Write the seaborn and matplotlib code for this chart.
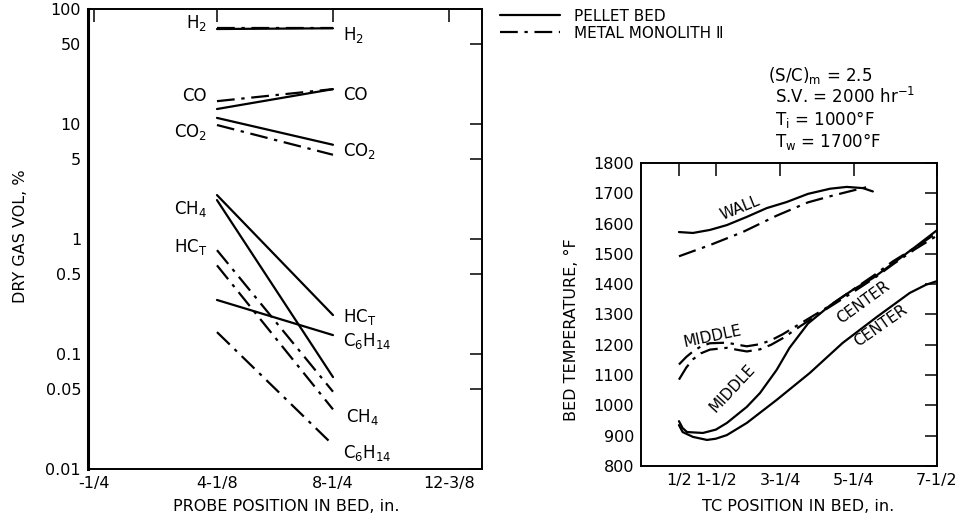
import matplotlib
matplotlib.use("Agg")
import matplotlib.pyplot as plt
import pandas as pd
import seaborn as sns

sns.set_style("white")
plt.rcParams["font.family"] = ["DejaVu Sans"]
plt.rcParams["mathtext.default"] = "regular"
plt.rcParams["text.color"] = "black"
plt.rcParams["axes.labelcolor"] = "black"

BEDS = ["PELLET BED", "METAL MONOLITH Ⅱ"]
DASHES = {"PELLET BED": "", "METAL MONOLITH Ⅱ": (8, 3, 1.5, 3)}

# ---- Dry gas composition at the two probe stations (vol %) ----
probe_pos = [4.125, 8.25]
gases = ["H2", "CO", "CO2", "CH4", "HCT", "C6H14"]
pellet_in = [67, 13.5, 11.3, 2.18, 2.41, 0.295]
pellet_out = [68, 20.1, 6.6, 0.063, 0.218, 0.146]
monolith_in = [68, 15.8, 9.8, 0.59, 0.80, 0.155]
monolith_out = [68, 20.1, 5.4, 0.033, 0.047, 0.0162]

probe_ticks = [-0.25, 4.125, 8.25, 12.375]
probe_labels = ["-1/4", "4-1/8", "8-1/4", "12-3/8"]
gas_yticks = [0.01, 0.05, 0.1, 0.5, 1, 5, 10, 50, 100]
gas_ylabels = ["0.01", "0.05", "0.1", "0.5", "1", "5", "10", "50", "100"]

# ---- Bed temperature profiles (°F) ----
wall_pellet_x = [0.5, 0.88, 1.34, 1.8, 2.34, 2.88, 3.42, 4.0, 4.6, 5.05, 5.49, 5.76]
wall_pellet_t = [1572, 1569, 1579, 1595, 1622, 1651, 1671, 1698, 1715, 1721, 1717, 1706]
wall_mono_x = [0.5, 1.34, 2.23, 3.15, 4.0, 4.6, 5.05, 5.45, 5.7]
wall_mono_t = [1492, 1529, 1572, 1626, 1670, 1690, 1704, 1716, 1723]

mid_mono_x = [0.5, 0.7, 0.88, 1.1, 1.34, 1.8, 2.1, 2.34, 2.7, 3.0, 3.32, 3.86, 4.5, 5.2, 5.8, 6.3, 6.9, 7.5]
mid_mono_t = [1135, 1160, 1178, 1195, 1205, 1207, 1200, 1195, 1202, 1215, 1235, 1275, 1322, 1380, 1430, 1475, 1520, 1570]
ctr_mono_x = [0.5, 0.7, 0.88, 1.1, 1.34, 1.8, 2.1, 2.34, 2.7, 3.0, 3.32, 3.8, 4.5, 5.2, 5.8, 6.3, 6.9, 7.5]
ctr_mono_t = [1085, 1125, 1152, 1172, 1184, 1190, 1183, 1178, 1185, 1200, 1222, 1262, 1318, 1372, 1420, 1465, 1515, 1560]

mid_pellet_x = [0.5, 0.6, 0.72, 1.15, 1.5, 1.8, 2.34, 2.7, 3.15, 3.5, 4.0, 4.6, 5.2, 5.76, 6.3, 6.9, 7.5]
mid_pellet_t = [948, 925, 912, 909, 920, 942, 995, 1041, 1117, 1190, 1270, 1330, 1380, 1420, 1468, 1522, 1578]
ctr_pellet_x = [0.5, 0.6, 0.88, 1.26, 1.5, 1.8, 2.34, 3.15, 4.05, 4.94, 5.87, 6.76, 7.2, 7.5]
ctr_pellet_t = [935, 912, 896, 886, 890, 902, 942, 1018, 1107, 1206, 1292, 1371, 1398, 1410]

tc_ticks = [0.5, 1.5, 3.25, 5.25, 7.5]
tc_labels = ["1/2", "1-1/2", "3-1/4", "5-1/4", "7-1/2"]
temp_ticks = list(range(800, 1801, 100))

# ---- long-form tables ----
gas_rows = []
for i, g in enumerate(gases):
    for bed, a, b in ((BEDS[0], pellet_in, pellet_out), (BEDS[1], monolith_in, monolith_out)):
        gas_rows.append({"gas": g, "bed": bed, "pos": probe_pos[0], "pct": a[i]})
        gas_rows.append({"gas": g, "bed": bed, "pos": probe_pos[1], "pct": b[i]})
gas_df = pd.DataFrame(gas_rows)

temp_rows = []
for name, bed, xs, ts in (
    ("wall", BEDS[0], wall_pellet_x, wall_pellet_t),
    ("wall", BEDS[1], wall_mono_x, wall_mono_t),
    ("middle", BEDS[1], mid_mono_x, mid_mono_t),
    ("center", BEDS[1], ctr_mono_x, ctr_mono_t),
    ("middle", BEDS[0], mid_pellet_x, mid_pellet_t),
    ("center", BEDS[0], ctr_pellet_x, ctr_pellet_t),
):
    for x, t in zip(xs, ts):
        temp_rows.append({"curve": name + "/" + bed, "bed": bed, "pos": x, "temp": t})
temp_df = pd.DataFrame(temp_rows)

fig = plt.figure(figsize=(9.62, 5.18), dpi=100)
ax1 = fig.add_axes([0.0915, 0.0946, 0.4096, 0.888])
ax2 = fig.add_axes([0.6663, 0.1004, 0.3077, 0.585])

# ---- left panel: gas composition ----
sns.lineplot(data=gas_df, x="pos", y="pct", units="gas", estimator=None,
             style="bed", style_order=BEDS, dashes=DASHES, color="black",
             lw=1.6, ax=ax1, legend=True)
ax1.set_yscale("log")
ax1.set_ylim(0.01, 100)
ax1.set_xlim(-0.46, 13.55)
ax1.set_xticks(probe_ticks, probe_labels)
ax1.set_yticks(gas_yticks, gas_ylabels)
ax1.minorticks_off()
ax1.set_xlabel("PROBE POSITION IN BED, in.", fontsize=11.5)
ax1.set_ylabel("DRY GAS VOL, %", fontsize=11.5)
ax1.xaxis.set_label_coords(0.5025, -0.066)
ax1.yaxis.set_label_coords(-0.152, 0.506)

lab = dict(fontsize=12, va="center")
left_x, right_x = 3.77, 8.6
ax1.text(left_x, 76, r"H$_2$", ha="right", **lab)
ax1.text(left_x, 17.5, "CO", ha="right", **lab)
ax1.text(left_x, 8.5, r"CO$_2$", ha="right", **lab)
ax1.text(left_x, 1.83, r"CH$_4$", ha="right", **lab)
ax1.text(left_x, 0.85, r"HC$_T$", ha="right", **lab)
ax1.text(right_x, 59.5, r"H$_2$", ha="left", **lab)
ax1.text(right_x, 17.9, "CO", ha="left", **lab)
ax1.text(right_x, 5.8, r"CO$_2$", ha="left", **lab)
ax1.text(right_x, 0.21, r"HC$_T$", ha="left", **lab)
ax1.text(right_x, 0.131, r"C$_6$H$_{14}$", ha="left", **lab)
ax1.text(right_x + 0.1, 0.0283, r"CH$_4$", ha="left", **lab)
ax1.text(right_x, 0.0137, r"C$_6$H$_{14}$", ha="left", **lab)

sns.move_legend(ax1, loc="upper left", bbox_to_anchor=(1.046, 1.001),
                title=None, frameon=False, fontsize=11, handlelength=3.9,
                handletextpad=0.9, labelspacing=0.15, borderpad=0,
                borderaxespad=0)

# ---- right panel: bed temperature ----
sns.lineplot(data=temp_df, x="pos", y="temp", units="curve", estimator=None,
             style="bed", style_order=BEDS, dashes=DASHES, color="black",
             lw=1.6, sort=False, ax=ax2, legend=False)
ax2.set_xlim(-0.53, 7.5)
ax2.set_ylim(800, 1800)
ax2.set_xticks(tc_ticks, tc_labels)
ax2.set_yticks(temp_ticks)
ax2.set_xlabel("TC POSITION IN BED, in.", fontsize=11.5)
ax2.set_ylabel("BED TEMPERATURE, °F", fontsize=11.5)
ax2.xaxis.set_label_coords(0.53, -0.11)
ax2.yaxis.set_label_coords(-0.209, 0.45)

cl = dict(fontsize=11, ha="center", va="center")
ax2.text(2.15, 1651, "WALL", rotation=22, **cl)
ax2.text(1.42, 1229, "MIDDLE", rotation=12, **cl)
ax2.text(1.96, 1057, "MIDDLE", rotation=47, **cl)
ax2.text(5.49, 1341, "CENTER", rotation=36, **cl)
ax2.text(5.97, 1262, "CENTER", rotation=35, **cl)

for ax in (ax1, ax2):
    ax.tick_params(direction="in", length=9, width=1.1, top=True, right=True,
                   labelsize=11.5, pad=5, colors="black")
    for s in ax.spines.values():
        s.set_linewidth(1.4)
        s.set_color("black")
ax1.spines["left"].set_linewidth(2.2)

# ---- operating conditions ----
cond = dict(fontsize=12, ha="left", va="center")
fig.text(768 / 962, 1 - 76 / 518, r"(S/C)$_m$ = 2.5", **cond)
fig.text(775 / 962, 1 - 97 / 518, r"S.V. = 2000 hr$^{-1}$", **cond)
fig.text(775 / 962, 1 - 119 / 518, r"T$_i$ = 1000°F", **cond)
fig.text(775 / 962, 1 - 141 / 518, r"T$_w$ = 1700°F", **cond)

fig.savefig("out.png", dpi=100, facecolor="white")
